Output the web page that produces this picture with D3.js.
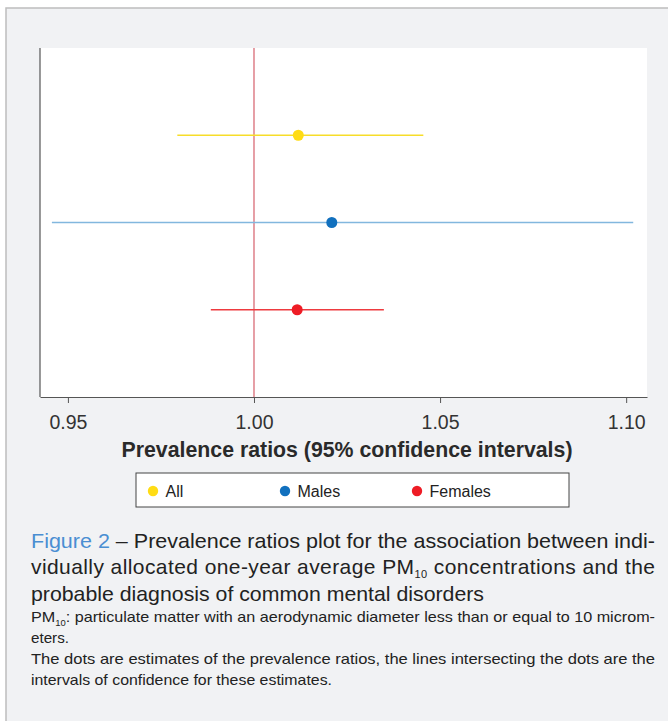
<!DOCTYPE html>
<html>
<head>
<meta charset="utf-8">
<script src="https://cdn.jsdelivr.net/npm/d3@7.9.0/dist/d3.min.js"></script>
<style>
  body { margin: 0; background: #fff; }
  svg { display: block; font-family: "Liberation Sans", Arial, sans-serif; }
</style>
</head>
<body>
<svg id="chart" width="668" height="721"></svg>
<script>
// --- data ---
const groups = ['All', 'Males', 'Females'];
const estimates = [1.0119, 1.0209, 1.0116];
const lowerCI = [0.9794, 0.9457, 0.9884];
const upperCI = [1.0455, 1.1019, 1.0349];
const xTicks = [0.95, 1.00, 1.05, 1.10];
const dotColors = ['#ffdc14', '#1170be', '#ee1c25'];
const lineColors = ['#f7dd2a', '#82b7de', '#ee3a3f'];

const svg = d3.select('#chart');

// panel background + border
svg.append('rect').attr('x', 6).attr('y', 8).attr('width', 680).attr('height', 730)
  .attr('fill', '#f1f2f4').attr('stroke', '#bdbdbd').attr('stroke-width', 1.5);

// plot area
const m = { left: 40, right: 647, top: 48, bottom: 397 };
svg.append('rect').attr('x', m.left).attr('y', m.top)
  .attr('width', m.right - m.left).attr('height', m.bottom - m.top).attr('fill', '#fff');

const x = d3.scaleLinear().domain([0.9425, 1.1056]).range([m.left, m.right]);
const y = d3.scaleLinear().domain([0, 4]).range([m.top, m.bottom]);

// reference line at 1
svg.append('line')
  .attr('x1', x(1)).attr('x2', x(1)).attr('y1', m.top).attr('y2', m.bottom)
  .attr('stroke', '#e08890').attr('stroke-width', 1.6);

// left axis line
svg.append('line').attr('x1', m.left).attr('x2', m.left).attr('y1', m.top).attr('y2', m.bottom)
  .attr('stroke', '#555').attr('stroke-width', 1.2);

// bottom axis
const xAxis = svg.append('g').attr('transform', `translate(0,${m.bottom})`)
  .call(d3.axisBottom(x).tickValues(xTicks).tickFormat(d3.format('.2f')).tickSize(6).tickSizeOuter(0));
xAxis.select('.domain').attr('stroke', '#555').attr('stroke-width', 1.2);
xAxis.selectAll('.tick line').attr('stroke', '#555');
xAxis.selectAll('.tick text').attr('font-size', 19.5).attr('fill', '#333')
  .attr('font-family', '"Liberation Sans", Arial, sans-serif').attr('dy', '1.2em');

svg.append('text').attr('x', 347).attr('y', 457).attr('text-anchor', 'middle')
  .attr('font-size', 21.3).attr('font-weight', 'bold').attr('fill', '#2a2a2a')
  .text('Prevalence ratios (95% confidence intervals)');

// CI lines and dots
const rows = groups.map((g, i) => ({ g, i, est: estimates[i], lo: lowerCI[i], hi: upperCI[i] }));
svg.selectAll('line.ci').data(rows).join('line').attr('class', 'ci')
  .attr('x1', d => x(d.lo)).attr('x2', d => x(d.hi))
  .attr('y1', d => y(d.i + 1)).attr('y2', d => y(d.i + 1))
  .attr('stroke', d => lineColors[d.i]).attr('stroke-width', 1.4);
svg.selectAll('circle.est').data(rows).join('circle').attr('class', 'est')
  .attr('cx', d => x(d.est)).attr('cy', d => y(d.i + 1)).attr('r', 5.5)
  .attr('fill', d => dotColors[d.i]);

// legend
svg.append('rect').attr('x', 136).attr('y', 473).attr('width', 433).attr('height', 34)
  .attr('fill', '#fff').attr('stroke', '#444').attr('stroke-width', 1);
const legX = [153, 285, 417];
const leg = svg.selectAll('g.leg').data(groups).join('g').attr('class', 'leg')
  .attr('transform', (d, i) => `translate(${legX[i]},491)`);
leg.append('circle').attr('r', 5.2).attr('fill', (d, i) => dotColors[i]);
leg.append('text').attr('x', 12.5).attr('y', 5.8).attr('font-size', 16).attr('fill', '#222').text(d => d);

// caption
const cap = svg.append('g').attr('fill', '#222');
const c1 = cap.append('text').attr('x', 31).attr('y', 548).attr('font-size', 21)
  .attr('textLength', 624).attr('lengthAdjust', 'spacingAndGlyphs');
c1.append('tspan').attr('fill', '#4a8ed2').text('Figure 2');
c1.append('tspan').text(' – Prevalence ratios plot for the association between indi-');
const c2 = cap.append('text').attr('x', 31).attr('y', 574).attr('font-size', 21)
  .attr('textLength', 624).attr('lengthAdjust', 'spacing');
c2.append('tspan').text('vidually allocated one-year average PM');
c2.append('tspan').attr('font-size', 11).attr('dy', 4).text('10');
c2.append('tspan').attr('dy', -4).text(' concentrations and the');
cap.append('text').attr('x', 31).attr('y', 601).attr('font-size', 21)
  .attr('textLength', 453).attr('lengthAdjust', 'spacingAndGlyphs')
  .text('probable diagnosis of common mental disorders');

const n1 = cap.append('text').attr('x', 31).attr('y', 622).attr('font-size', 14.5)
  .attr('textLength', 624).attr('lengthAdjust', 'spacingAndGlyphs');
n1.append('tspan').text('PM');
n1.append('tspan').attr('font-size', 8.5).attr('dy', 3.5).text('10');
n1.append('tspan').attr('dy', -3.5).text(': particulate matter with an aerodynamic diameter less than or equal to 10 microm-');
cap.append('text').attr('x', 31).attr('y', 643).attr('font-size', 14.5)
  .attr('textLength', 38).attr('lengthAdjust', 'spacingAndGlyphs').text('eters.');
cap.append('text').attr('x', 31).attr('y', 664).attr('font-size', 14.5)
  .attr('textLength', 624).attr('lengthAdjust', 'spacingAndGlyphs')
  .text('The dots are estimates of the prevalence ratios, the lines intersecting the dots are the');
cap.append('text').attr('x', 31).attr('y', 685).attr('font-size', 14.5)
  .attr('textLength', 301).attr('lengthAdjust', 'spacingAndGlyphs')
  .text('intervals of confidence for these estimates.');
</script>
</body>
</html>
